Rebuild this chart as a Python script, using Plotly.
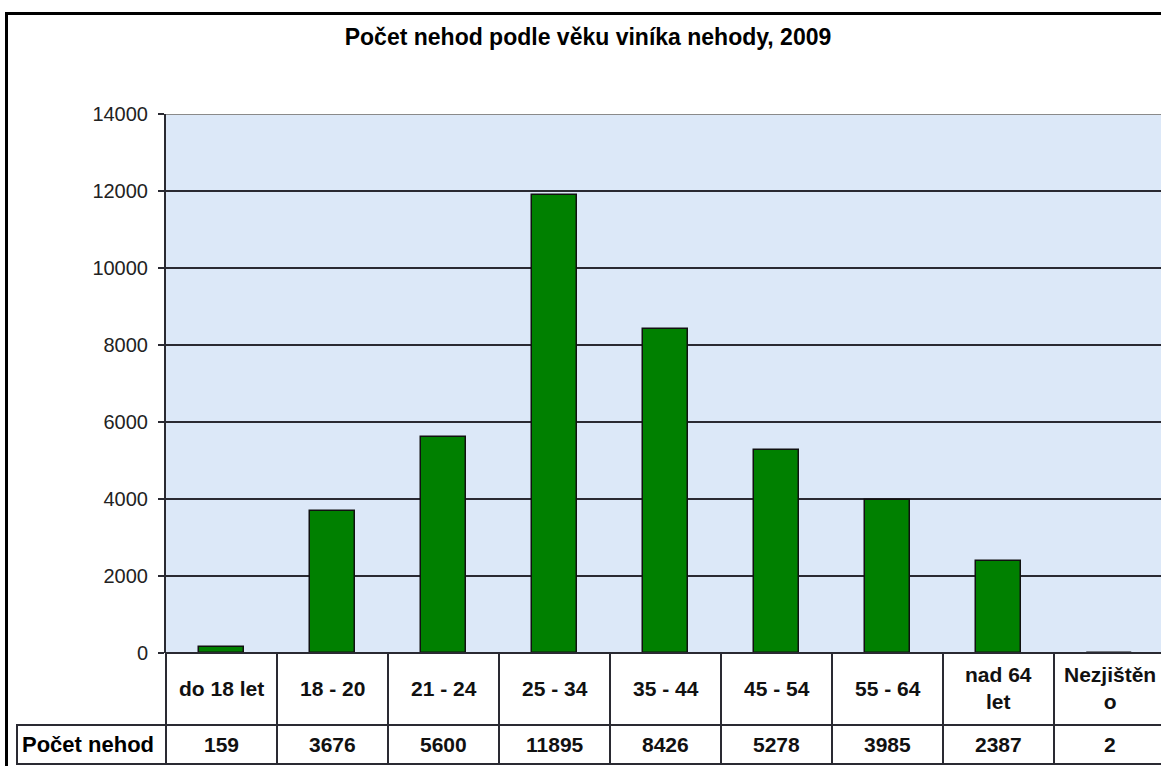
import plotly.graph_objects as go

# ---------------- data ----------------
title_text = "Počet nehod podle věku viníka nehody, 2009"
categories = ["do 18 let", "18 - 20", "21 - 24", "25 - 34", "35 - 44",
              "45 - 54", "55 - 64", "nad 64 let", "Nezjištěno"]
category_labels = ["do 18 let", "18 - 20", "21 - 24", "25 - 34", "35 - 44",
                   "45 - 54", "55 - 64", "nad 64<br>let", "Nezjištěn<br>o"]
counts = [159, 3676, 5600, 11895, 8426, 5278, 3985, 2387, 2]
row_label = "Počet nehod"
y_ticks = [0, 2000, 4000, 6000, 8000, 10000, 12000, 14000]

# ---------------- layout geometry (pixels) ----------------
W, H = 1161, 766
L, T, R, B = 166, 114, 0, 113
plot_w = W - L - R
plot_h = H - T - B
col_px = 111.0
x_lo = -0.5
x_hi = x_lo + plot_w / col_px

FONT = "Liberation Sans, Arial, sans-serif"
LINE = "#2a2a32"


def pxx(px):
    return (px - L) / plot_w


def pxy(py):
    return (H - B - py) / plot_h


def data_to_paper_x(v):
    return (v - x_lo) / (x_hi - x_lo)


n = len(categories)
xs = list(range(n))

fig = go.Figure()
fig.add_trace(go.Bar(
    x=xs, y=counts, width=0.405,
    marker=dict(color="#008000", line=dict(color="#111111", width=1.5)),
    hoverinfo="skip", showlegend=False,
))

shapes = []
annotations = []

# top border of plot area (grey)
shapes.append(dict(type="line", xref="paper", yref="y", x0=0, x1=1,
                   y0=y_ticks[-1], y1=y_ticks[-1],
                   line=dict(color="#8a8a8a", width=2), layer="above"))

# table row backgrounds
row1_top, row1_bot, row2_bot = 653, 725, 764
tbl_left = 17
shapes.append(dict(type="rect", xref="paper", yref="paper",
                   x0=pxx(L), x1=pxx(W + 20), y0=pxy(row1_top), y1=pxy(row1_bot),
                   fillcolor="white", line=dict(width=0), layer="above"))
shapes.append(dict(type="rect", xref="paper", yref="paper",
                   x0=pxx(tbl_left), x1=pxx(W + 20), y0=pxy(row1_bot), y1=pxy(row2_bot),
                   fillcolor="white", line=dict(width=0), layer="above"))
# horizontal table lines
for (xa, yy) in [(L, row1_top), (tbl_left, row1_bot), (tbl_left, row2_bot)]:
    shapes.append(dict(type="line", xref="paper", yref="paper",
                       x0=pxx(xa - 1), x1=pxx(W + 20), y0=pxy(yy), y1=pxy(yy),
                       line=dict(color=LINE, width=2), layer="above"))
# vertical table lines
shapes.append(dict(type="line", xref="paper", yref="paper",
                   x0=pxx(tbl_left), x1=pxx(tbl_left), y0=pxy(row1_bot), y1=pxy(row2_bot),
                   line=dict(color=LINE, width=2), layer="above"))
for i in range(n + 1):
    xb = data_to_paper_x(i - 0.5)
    shapes.append(dict(type="line", xref="paper", yref="paper",
                       x0=xb, x1=xb, y0=pxy(row1_top), y1=pxy(row2_bot),
                       line=dict(color=LINE, width=2), layer="above"))

# outer frame
shapes.append(dict(type="rect", xref="paper", yref="paper",
                   x0=pxx(6.5), x1=pxx(W + 100), y0=pxy(13.5), y1=pxy(H + 100),
                   line=dict(color="#000000", width=3), fillcolor="rgba(0,0,0,0)",
                   layer="above"))

# table text
for i in range(n):
    annotations.append(dict(xref="paper", yref="paper",
                            x=data_to_paper_x(i), y=pxy((row1_top + row1_bot) / 2 - 1),
                            text=category_labels[i], showarrow=False,
                            xanchor="center", yanchor="middle",
                            font=dict(family=FONT, size=21, color="#111111", weight="bold")))
    annotations.append(dict(xref="paper", yref="paper",
                            x=data_to_paper_x(i), y=pxy((row1_bot + row2_bot) / 2),
                            text=str(counts[i]), showarrow=False,
                            xanchor="center", yanchor="middle",
                            font=dict(family=FONT, size=21, color="#111111", weight="bold")))
annotations.append(dict(xref="paper", yref="paper",
                        x=pxx(tbl_left + 3), y=pxy((row1_bot + row2_bot) / 2),
                        text=row_label, showarrow=False,
                        xanchor="left", yanchor="middle",
                        font=dict(family=FONT, size=22, color="#000000", weight="bold")))

fig.update_layout(
    width=W, height=H,
    margin=dict(l=L, r=R, t=T, b=B, pad=0),
    paper_bgcolor="white",
    plot_bgcolor="#dce8f8",
    title=dict(text=title_text, xref="container", yref="container",
               x=588 / W, y=1 - 37 / H, xanchor="center", yanchor="middle",
               font=dict(family=FONT, size=23, color="#000000", weight="bold")),
    xaxis=dict(range=[x_lo, x_hi], showticklabels=False, showgrid=False,
               zeroline=False, showline=False, ticks="", fixedrange=True),
    yaxis=dict(range=[0, 14000], tickvals=y_ticks, ticktext=[str(v) for v in y_ticks],
               ticks="outside", ticklen=6, tickwidth=1.5, tickcolor=LINE,
               showline=True, linecolor=LINE, linewidth=2,
               showgrid=True, gridcolor=LINE, gridwidth=2,
               zeroline=False, ticklabelstandoff=6,
               tickfont=dict(family=FONT, size=20, color="#222222"),
               fixedrange=True),
    shapes=shapes,
    annotations=annotations,
    bargap=0,
)

fig.write_html("out.html")
